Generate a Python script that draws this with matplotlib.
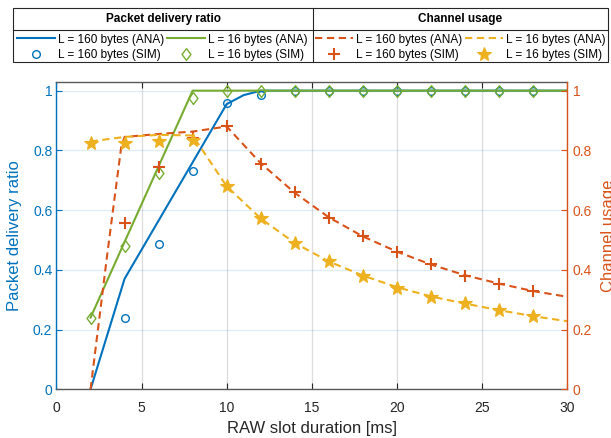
import matplotlib
matplotlib.use("Agg")
import matplotlib.pyplot as plt
from matplotlib.lines import Line2D
from matplotlib.patches import Rectangle

plt.rcParams['font.family'] = ['Liberation Sans', 'DejaVu Sans']

# ---------------- data ----------------
# Packet delivery ratio, analytical
pdr160_ana_x = [2, 4, 10, 11, 12, 14, 16, 18, 20, 22, 24, 26, 28, 30]
pdr160_ana_y = [0.0, 0.37, 0.955, 0.985, 1.0, 1.0, 1.0, 1.0, 1.0, 1.0, 1.0, 1.0, 1.0, 1.0]
pdr16_ana_x = [2, 8, 10, 12, 14, 16, 18, 20, 22, 24, 26, 28, 30]
pdr16_ana_y = [0.24, 1.0, 1.0, 1.0, 1.0, 1.0, 1.0, 1.0, 1.0, 1.0, 1.0, 1.0, 1.0]
# Packet delivery ratio, simulation
pdr160_sim_x = [4, 6, 8, 10, 12, 14, 16, 18, 20, 22, 24, 26, 28]
pdr160_sim_y = [0.24, 0.485, 0.73, 0.96, 0.985, 1.0, 1.0, 1.0, 1.0, 1.0, 1.0, 1.0, 1.0]
pdr16_sim_x = [2, 4, 6, 8, 10, 12, 14, 16, 18, 20, 22, 24, 26, 28]
pdr16_sim_y = [0.24, 0.48, 0.725, 0.975, 1.0, 1.0, 1.0, 1.0, 1.0, 1.0, 1.0, 1.0, 1.0, 1.0]
# Channel usage, analytical
cu160_ana_x = [2, 3, 3.8, 4, 6, 8, 10, 12, 14, 16, 18, 20, 22, 24, 26, 28, 30]
cu160_ana_y = [0.0, 0.46, 0.81, 0.845, 0.855, 0.863, 0.88, 0.757, 0.658, 0.576, 0.512,
               0.461, 0.418, 0.382, 0.354, 0.329, 0.31]
cu16_ana_x = [2, 4, 6, 8, 10, 12, 14, 16, 18, 20, 22, 24, 26, 28, 30]
cu16_ana_y = [0.83, 0.845, 0.852, 0.85, 0.68, 0.572, 0.49, 0.428, 0.381, 0.342, 0.311,
              0.287, 0.265, 0.245, 0.228]
# Channel usage, simulation
cu160_sim_x = [4, 6, 8, 10, 12, 14, 16, 18, 20, 22, 24, 26, 28]
cu160_sim_y = [0.557, 0.743, 0.84, 0.88, 0.756, 0.659, 0.575, 0.512, 0.461, 0.418,
               0.381, 0.354, 0.328]
cu16_sim_x = [2, 4, 6, 8, 10, 12, 14, 16, 18, 20, 22, 24, 26, 28]
cu16_sim_y = [0.825, 0.825, 0.83, 0.836, 0.682, 0.572, 0.49, 0.428, 0.381, 0.34,
              0.31, 0.288, 0.265, 0.245]

x_ticks = [0, 5, 10, 15, 20, 25, 30]
y_ticks = [0, 0.2, 0.4, 0.6, 0.8, 1.0]
y_ticklabels = ['0', '0.2', '0.4', '0.6', '0.8', '1']

labels_160_ana = 'L = 160 bytes (ANA)'
labels_16_ana = 'L = 16 bytes (ANA)'
labels_160_sim = 'L = 160 bytes (SIM)'
labels_16_sim = 'L = 16 bytes (SIM)'

# ---------------- style ----------------
BLUE = '#0072BD'
ORANGE = '#D95319'
YELLOW = '#EDB120'
GREEN = '#77AC30'
DARK = '#262626'
W, H = 611, 438

DIAMOND = [(0, 1), (0.75, 0), (0, -1), (-0.75, 0), (0, 1)]

fig = plt.figure(figsize=(W / 100, H / 100), dpi=100)
ax = fig.add_axes([56.5 / W, 1 - 389.3 / H, 510.5 / W, 307.6 / H])
ax2 = ax.twinx()

lw = 1.5
dash = (3.5, 2.2)

h1, = ax.plot(pdr160_ana_x, pdr160_ana_y, color=BLUE, lw=lw)
h2, = ax.plot(pdr16_ana_x, pdr16_ana_y, color=GREEN, lw=lw)
h3, = ax.plot(pdr160_sim_x, pdr160_sim_y, ls='none', marker='o', ms=5.5,
              mfc='none', mec=BLUE, mew=1.0)
h4, = ax.plot(pdr16_sim_x, pdr16_sim_y, ls='none', marker=DIAMOND, ms=8.5,
              mfc='none', mec=GREEN, mew=1.0)

h5, = ax2.plot(cu160_ana_x, cu160_ana_y, color=ORANGE, lw=lw, ls=(0, dash))
h6, = ax2.plot(cu16_ana_x, cu16_ana_y, color=YELLOW, lw=lw, ls=(0, dash))
h7, = ax2.plot(cu160_sim_x, cu160_sim_y, ls='none', marker='+', ms=8,
               mec=ORANGE, mew=1.5)
h8, = ax2.plot(cu16_sim_x, cu16_sim_y, ls='none', marker='*', ms=10,
               mfc=YELLOW, mec=YELLOW, mew=0.8)

for a in (ax, ax2):
    a.set_xlim(0, 30)
    a.set_ylim(0, 1.03)
    a.set_yticks(y_ticks)
    a.set_yticklabels(y_ticklabels)

ax.set_xticks(x_ticks)
ax.set_xticklabels([str(t) for t in x_ticks])

# grid
ax.set_axisbelow(True)
ax.xaxis.grid(True, color='#dcdcdc', lw=0.9)
ax.yaxis.grid(True, color=BLUE, alpha=0.13, lw=0.9)

# spines
for s in ('top', 'bottom'):
    ax.spines[s].set_color('0.35')
    ax.spines[s].set_linewidth(1.0)
ax.spines['left'].set_color(BLUE)
ax.spines['right'].set_visible(False)
for s in ('top', 'bottom', 'left'):
    ax2.spines[s].set_visible(False)
ax2.spines['right'].set_color(ORANGE)
ax.spines['left'].set_linewidth(1.0)
ax2.spines['right'].set_linewidth(1.0)

ax.tick_params(axis='x', direction='in', top=True, length=4, width=0.8,
               color=DARK, labelcolor=DARK, labelsize=10, pad=8.5)
ax.tick_params(axis='y', direction='in', length=4, width=0.8, color=BLUE,
               labelcolor=BLUE, labelsize=10, pad=3)
ax2.tick_params(axis='y', direction='in', length=4, width=0.8, color=ORANGE,
                labelcolor=ORANGE, labelsize=10, pad=4)

ax.set_xlabel('RAW slot duration [ms]', fontsize=12, color=DARK)
ax.xaxis.set_label_coords(0.5, -0.104)
ax.set_ylabel('Packet delivery ratio', fontsize=12, color=BLUE, va='center')
ax.yaxis.set_label_coords(-0.083, 0.5)
ax2.set_ylabel('Channel usage', fontsize=12, color=ORANGE, rotation=90, va='center')
ax2.yaxis.set_label_coords(1.082, 0.5)

# ---------------- legend table ----------------
leg_kw = dict(ncol=2, loc='upper left', mode='expand', frameon=False, fontsize=8.5,
              borderpad=0, borderaxespad=0, handlelength=3.2, handletextpad=0.3,
              labelspacing=0.33, columnspacing=0.5)
leg1 = fig.legend([h1, h3, h2, h4],
                  [labels_160_ana, labels_160_sim, labels_16_ana, labels_16_sim],
                  bbox_to_anchor=(17 / W, 0.5, 291 / W, 0.5 - 33.5 / H), **leg_kw)
leg2 = fig.legend([h5, h7, h6, h8],
                  [labels_160_ana, labels_160_sim, labels_16_ana, labels_16_sim],
                  bbox_to_anchor=(315 / W, 0.5, 291 / W, 0.5 - 33.5 / H), **leg_kw)
for t in leg1.get_texts() + leg2.get_texts():
    t.set_color('black')

fig.text(163 / W, 1 - 19 / H, 'Packet delivery ratio', ha='center', va='center',
         fontsize=8.5, fontweight='bold')
fig.text(460.5 / W, 1 - 19 / H, 'Channel usage', ha='center', va='center',
         fontsize=8.5, fontweight='bold')

fig.add_artist(Rectangle((13 / W, 1 - 62 / H), (608 - 13) / W, (62 - 8) / H,
                         transform=fig.transFigure, fill=False, ec=DARK, lw=0.8))
fig.add_artist(Line2D([313 / W, 313 / W], [1 - 8 / H, 1 - 62 / H],
                      transform=fig.transFigure, color=DARK, lw=0.8))
fig.add_artist(Line2D([13 / W, 608 / W], [1 - 29.5 / H, 1 - 29.5 / H],
                      transform=fig.transFigure, color=DARK, lw=0.8))

fig.savefig('out.png', dpi=100)
